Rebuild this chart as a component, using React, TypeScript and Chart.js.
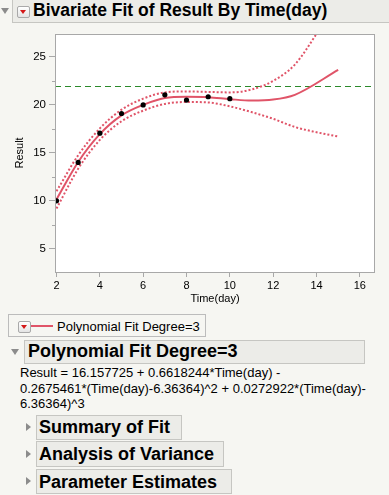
import React, { useEffect, useRef } from "react";
import { Chart, registerables } from "chart.js";

Chart.register(...registerables);

// ---- Data ----
const OBS_X = [2, 3, 4, 5, 6, 7, 8, 9, 10];
const OBS_Y = [10.0, 14.0, 17.05, 19.1, 20.0, 21.05, 20.5, 20.85, 20.65];

const FIT_X = [2, 3, 4, 5, 6, 7, 8, 9, 10, 11, 12, 13, 15];
const FIT_Y = [10.15, 14.05, 16.95, 18.9, 20.0, 20.72, 20.85, 20.8, 20.6, 20.45, 20.55, 21.05, 23.65];

const BAND_X = [2, 3, 4, 5, 6, 7, 8, 9, 10, 11, 12, 13, 14, 15];
const UPPER_Y = [11.0, 14.75, 17.55, 19.5, 20.65, 21.3, 21.4, 21.35, 21.3, 21.6, 22.5, 24.2, 27.4, 31.0];
const LOWER_Y = [9.2, 13.35, 16.35, 18.3, 19.4, 20.1, 20.3, 20.25, 19.85, 19.25, 18.55, 17.7, 17.15, 16.7];

const REF_Y = 22;
const X_TICKS = [2, 4, 6, 8, 10, 12, 14, 16];
const Y_TICKS = [5, 10, 15, 20, 25];
const Y_MINOR = [7.5, 12.5, 17.5, 22.5];
const X_RANGE = [1.93, 16.7];
const Y_RANGE = [2.58, 27.4];

const FIT_COLOR = "#e05468";
const FONT = "'Liberation Sans', Arial, sans-serif";

const pts = (xs: number[], ys: number[]) => xs.map((x, i) => ({ x, y: ys[i] }));

const framePlugin = {
  id: "frame",
  beforeDraw(chart: any) {
    const { ctx, chartArea: a } = chart;
    ctx.save();
    ctx.fillStyle = "#ffffff";
    ctx.fillRect(a.left, a.top, a.right - a.left, a.bottom - a.top);
    ctx.restore();
  },
  beforeDatasetsDraw(chart: any) {
    const { ctx, chartArea: a, scales } = chart;
    const y = Math.round(scales.y.getPixelForValue(REF_Y)) + 0.5;
    ctx.save();
    ctx.strokeStyle = "#2b8a2b";
    ctx.lineWidth = 1;
    ctx.setLineDash([6, 4]);
    ctx.beginPath();
    ctx.moveTo(a.left, y);
    ctx.lineTo(a.right, y);
    ctx.stroke();
    ctx.restore();
  },
  afterDraw(chart: any) {
    const { ctx, chartArea: a, scales } = chart;
    ctx.save();
    ctx.strokeStyle = "#a8a8a8";
    ctx.lineWidth = 1;
    ctx.strokeRect(Math.round(a.left) + 0.5, Math.round(a.top) + 0.5, Math.round(a.right - a.left) - 1, Math.round(a.bottom - a.top));
    ctx.beginPath();
    Y_MINOR.forEach((v) => {
      const y = Math.round(scales.y.getPixelForValue(v)) + 0.5;
      ctx.moveTo(a.left - 3, y);
      ctx.lineTo(a.left, y);
    });
    ctx.stroke();
    ctx.restore();
  },
};

function ChartBox() {
  const ref = useRef<HTMLCanvasElement | null>(null);
  useEffect(() => {
    if (!ref.current) return;
    const chart = new Chart(ref.current, {
      type: "scatter",
      data: {
        datasets: [
          {
            type: "scatter",
            data: pts(OBS_X, OBS_Y),
            pointRadius: 2.6,
            pointBackgroundColor: "#000",
            pointBorderColor: "#000",
            pointBorderWidth: 0,
          } as any,
          {
            type: "line",
            data: pts(FIT_X, FIT_Y),
            borderColor: FIT_COLOR,
            borderWidth: 2,
            pointRadius: 0,
            tension: 0.4,
            cubicInterpolationMode: "monotone",
            fill: false,
          } as any,
          {
            type: "line",
            data: pts(BAND_X, UPPER_Y),
            borderColor: FIT_COLOR,
            borderWidth: 2,
            borderDash: [2, 2],
            pointRadius: 0,
            cubicInterpolationMode: "monotone",
            fill: false,
          } as any,
          {
            type: "line",
            data: pts(BAND_X, LOWER_Y),
            borderColor: FIT_COLOR,
            borderWidth: 2,
            borderDash: [2, 2],
            pointRadius: 0,
            cubicInterpolationMode: "monotone",
            fill: false,
          } as any,
        ],
      },
      options: {
        animation: false,
        responsive: false,
        maintainAspectRatio: false,
        layout: { padding: { top: 9, right: 14, left: 0, bottom: 0 } },
        plugins: { legend: { display: false }, tooltip: { enabled: false } },
        scales: {
          x: {
            type: "linear",
            min: X_RANGE[0],
            max: X_RANGE[1],
            afterBuildTicks: (s: any) => {
              s.ticks = X_TICKS.map((v) => ({ value: v }));
            },
            afterFit: (s: any) => {
              s.height = 42;
            },
            grid: { drawOnChartArea: false, drawTicks: true, tickLength: 5, tickColor: "#a8a8a8" },
            border: { display: false },
            ticks: { color: "#000", font: { family: FONT, size: 11 }, padding: 2, maxRotation: 0 },
            title: { display: true, text: "Time(day)", color: "#000", font: { family: FONT, size: 11 }, padding: { top: 0, bottom: 8 } },
          },
          y: {
            type: "linear",
            min: Y_RANGE[0],
            max: Y_RANGE[1],
            afterBuildTicks: (s: any) => {
              s.ticks = Y_TICKS.map((v) => ({ value: v }));
            },
            afterFit: (s: any) => {
              s.width = 55;
            },
            grid: { drawOnChartArea: false, drawTicks: true, tickLength: 6, tickColor: "#a8a8a8" },
            border: { display: false },
            ticks: { color: "#000", font: { family: FONT, size: 11.5 }, padding: 3 },
            title: { display: true, text: "Result", color: "#000", font: { family: FONT, size: 11 }, padding: { top: 13, bottom: 0 } },
          },
        },
      },
      plugins: [framePlugin],
    } as any);
    return () => chart.destroy();
  }, []);
  return (
    <canvas
      ref={ref}
      width={389}
      height={290}
      style={{ position: "absolute", left: 0, top: 24, width: 389, height: 290 }}
    />
  );
}

const abs = (s: React.CSSProperties): React.CSSProperties => ({ position: "absolute", ...s });

function DownTri({ left, top, color, w = 8, h = 6 }: any) {
  return (
    <div
      style={abs({
        left,
        top,
        width: 0,
        height: 0,
        borderLeft: `${w / 2}px solid transparent`,
        borderRight: `${w / 2}px solid transparent`,
        borderTop: `${h}px solid ${color}`,
      })}
    />
  );
}

function RightTri({ left, top }: any) {
  return (
    <div
      style={abs({
        left,
        top,
        width: 0,
        height: 0,
        borderTop: "4px solid transparent",
        borderBottom: "4px solid transparent",
        borderLeft: "5px solid #8c8c8c",
      })}
    />
  );
}

function RedButton({ left, top }: any) {
  return (
    <div
      style={abs({
        left,
        top,
        width: 11,
        height: 10,
        border: "1px solid #a9a9a9",
        borderRadius: 2,
        background: "linear-gradient(#ffffff, #e4e4e4)",
        boxSizing: "content-box",
      })}
    >
      <DownTri left={2} top={3} color="#d41818" w={7} h={4} />
    </div>
  );
}

function HeadBox({ left, top, width, height, text, size, textLeft, textTop }: any) {
  return (
    <>
      <div
        style={abs({
          left,
          top,
          width,
          height,
          background: "#ecece8",
          border: "1px solid #c6c6c2",
          boxSizing: "border-box",
        })}
      />
      <div
        style={abs({
          left: textLeft,
          top: textTop,
          fontFamily: FONT,
          fontWeight: "bold",
          fontSize: size,
          lineHeight: 1,
          whiteSpace: "nowrap",
          color: "#000",
        })}
      >
        {text}
      </div>
    </>
  );
}

export default function App() {
  const formula = [
    "Result = 16.157725 + 0.6618244*Time(day) -",
    "0.2675461*(Time(day)-6.36364)^2 + 0.0272922*(Time(day)-",
    "6.36364)^3",
  ];
  return (
    <div
      style={{
        position: "fixed",
        left: 0,
        top: 0,
        width: 389,
        height: 495,
        overflow: "hidden",
        background: "#f6f6f2",
        fontFamily: FONT,
      }}
    >
      <DownTri left={1} top={8} color="#8c8c8c" w={8} h={6} />
      <HeadBox left={12} top={-1} width={390} height={24} text="Bivariate Fit of Result By Time(day)" size={17.5} textLeft={33} textTop={2} />
      <RedButton left={17} top={6} />

      <ChartBox />

      <div style={abs({ left: 8, top: 314, width: 198, height: 23, border: "1px solid #bcbcbc", boxSizing: "border-box" })} />
      <RedButton left={18} top={321} />
      <div style={abs({ left: 31, top: 325, width: 22, height: 2, background: FIT_COLOR })} />
      <div style={abs({ left: 57, top: 318.5, fontSize: 13, lineHeight: "15.5px", whiteSpace: "nowrap", color: "#000" })}>
        Polynomial Fit Degree=3
      </div>

      <DownTri left={11} top={349} color="#8c8c8c" w={8} h={6} />
      <HeadBox left={24} top={340} width={341} height={24} text="Polynomial Fit Degree=3" size={18} textLeft={28} textTop={342} />

      {formula.map((line, i) => (
        <div
          key={i}
          style={abs({ left: 20, top: 365 + i * 15.5, fontSize: 13, lineHeight: "15.5px", whiteSpace: "nowrap", color: "#000" })}
        >
          {line}
        </div>
      ))}

      <RightTri left={26} top={423} />
      <HeadBox left={36} top={415} width={146} height={25} text="Summary of Fit" size={18} textLeft={39} textTop={417.5} />
      <RightTri left={26} top={449.5} />
      <HeadBox left={36} top={441} width={188} height={26} text="Analysis of Variance" size={18} textLeft={39} textTop={445} />
      <RightTri left={26} top={477} />
      <HeadBox left={36} top={469} width={196} height={25} text="Parameter Estimates" size={18} textLeft={39} textTop={472.5} />
    </div>
  );
}
